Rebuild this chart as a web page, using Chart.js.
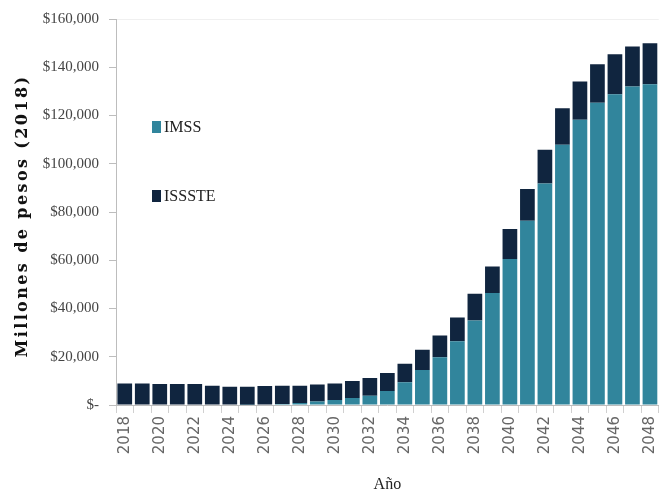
<!DOCTYPE html>
<html>
<head>
<meta charset="utf-8">
<script src="https://cdn.jsdelivr.net/npm/chart.js@4.4.1/dist/chart.umd.min.js"></script>
<style>
html,body{margin:0;padding:0;background:#fff;}
#wrap{width:671px;height:498px;position:relative;}
</style>
</head>
<body>
<div id="wrap"><canvas id="c" width="671" height="498"></canvas></div>
<script>
const years = [2018,2019,2020,2021,2022,2023,2024,2025,2026,2027,2028,2029,2030,2031,2032,2033,2034,2035,2036,2037,2038,2039,2040,2041,2042,2043,2044,2045,2046,2047,2048];
const imss = [0,0,0,0,0,0,0,100,200,450,800,1500,2050,2900,3850,5850,9450,14550,19800,26400,35000,46450,60550,76400,91850,107850,118200,125250,128850,132000,133000];
const issste = [8900,8900,8700,8700,8700,7950,7550,7450,7700,7500,7150,7000,6900,7000,7300,7400,7600,8400,9000,9900,11100,11000,12400,13100,13950,15200,15850,16000,16550,16550,16950];
const yTicks = [0,20000,40000,60000,80000,100000,120000,140000,160000];
const seriesNames = ['IMSS','ISSSTE'];
const seriesColors = ['#31859C','#10253F'];
const yTitle = 'Millones de pesos (2018)';

const legendPlugin = {
  id: 'insideLegend',
  afterDraw(chart) {
    const ctx = chart.ctx;
    const a = chart.chartArea;
    const items = [{i:0, y:127},{i:1, y:196}];
    ctx.save();
    ctx.font = '16px "Liberation Serif"';
    ctx.textBaseline = 'middle';
    items.forEach(it => {
      const ds = chart.data.datasets[it.i];
      const x = a.left + 36;
      ctx.fillStyle = ds.backgroundColor;
      ctx.fillRect(x, it.y - 6, 9, 12);
      ctx.fillStyle = '#222';
      ctx.fillText(ds.label, x + 12, it.y + 1);
    });
    // vertical axis title
    ctx.save();
    ctx.translate(23, (a.top + a.bottom) / 2 + 4);
    ctx.rotate(-Math.PI / 2);
    ctx.font = 'bold 16px "DejaVu Serif"';
    try { ctx.letterSpacing = '2.4px'; } catch (e) {}
    ctx.textAlign = 'center';
    ctx.textBaseline = 'middle';
    ctx.fillStyle = '#111';
    ctx.fillText(yTitle, 0, 0);
    ctx.restore();
    ctx.restore();
  }
};

new Chart(document.getElementById('c'), {
  type: 'bar',
  data: {
    labels: years.map(String),
    datasets: [
      {label: seriesNames[0], data: imss, backgroundColor: seriesColors[0], barPercentage: 0.84, categoryPercentage: 1.0},
      {label: seriesNames[1], data: issste, backgroundColor: seriesColors[1], barPercentage: 0.84, categoryPercentage: 1.0}
    ]
  },
  options: {
    responsive: false,
    animation: false,
    devicePixelRatio: 1,
    layout: {padding: {top: 12, right: 3, left: 8, bottom: 0}},
    plugins: {legend: {display: false}, tooltip: {enabled: false}},
    scales: {
      x: {
        stacked: true,
        offset: true,
        grid: {offset: true, drawOnChartArea: false, color: '#d0d0d0', tickLength: 8},
        border: {color: '#bdbdbd'},
        ticks: {
          autoSkip: false, maxRotation: 90, minRotation: 90,
          color: '#666', font: {family: 'DejaVu Sans', size: 15},
          callback: function(v, i) { return i % 2 === 0 ? this.getLabelForValue(v) : ''; }
        },
        title: {display: true, text: 'Año', color: '#222', font: {family: 'Liberation Serif', size: 16}, padding: {top: 11}},
        afterFit: s => { s.height = 93; }
      },
      y: {
        stacked: true,
        min: 0, max: 160000,
        afterBuildTicks: s => { s.ticks = yTicks.map(v => ({value: v})); },
        grid: {drawOnChartArea: true, color: ctx => ctx.tick && ctx.tick.value === 160000 ? '#f0f0f0' : 'rgba(0,0,0,0)', tickLength: 7, tickColor: '#bdbdbd'},
        border: {color: '#bdbdbd'},
        ticks: {
          color: '#444', font: {family: 'Liberation Serif', size: 15}, padding: 10,
          callback: v => v === 0 ? '$-' : '$' + v.toLocaleString('en-US')
        },
        title: {display: false},
        afterFit: s => { s.width = 108; }
      }
    }
  },
  plugins: [legendPlugin]
});
</script>
</body>
</html>
